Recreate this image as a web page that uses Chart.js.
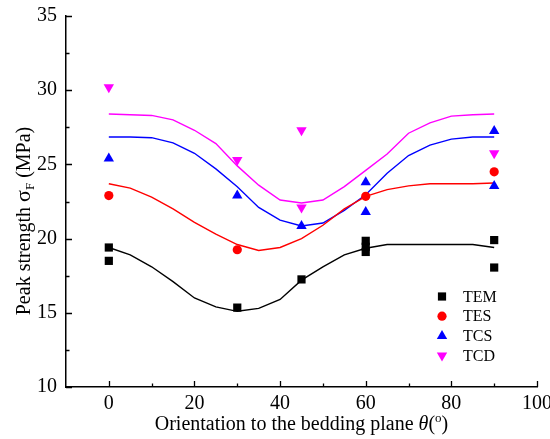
<!DOCTYPE html>
<html>
<head>
<meta charset="utf-8">
<script src="https://cdn.jsdelivr.net/npm/chart.js@4.4.1/dist/chart.umd.min.js"></script>
<style>
  html, body { margin: 0; padding: 0; background: #fff; }
  #wrap { width: 550px; height: 439px; }
</style>
</head>
<body>
<div id="wrap"><canvas id="strengthChart"></canvas></div>
<script>
// measured peak strength (MPa) vs bedding orientation (deg)
const temAngles = [0, 0, 30, 45, 60, 60, 60, 90, 90];
const temValues = [19.4, 18.5, 15.35, 17.25, 19.85, 19.45, 19.1, 19.9, 18.05];
const tesAngles = [0, 30, 60, 90];
const tesValues = [22.9, 19.25, 22.85, 24.5];
const tcsAngles = [0, 30, 45, 60, 60, 90, 90];
const tcsValues = [25.4, 22.9, 20.85, 23.8, 21.8, 27.25, 23.55];
const tcdAngles = [0, 30, 45, 45, 90];
const tcdValues = [30.2, 25.3, 27.3, 22.1, 25.75];

// fitted curves
const fitAngles = [0, 5, 10, 15, 20, 25, 30, 35, 40, 45, 50, 55, 60, 65, 70, 75, 80, 85, 90];
const temFit = [19.4, 18.9, 18.1, 17.1, 16.0, 15.4, 15.1, 15.3, 15.9, 17.2, 18.1, 18.9, 19.35, 19.6, 19.6, 19.6, 19.6, 19.6, 19.4];
const tesFit = [23.7, 23.4, 22.8, 22.0, 21.1, 20.3, 19.6, 19.2, 19.4, 20.0, 20.9, 22.0, 22.85, 23.3, 23.55, 23.7, 23.7, 23.7, 23.75];
const tcsFit = [26.85, 26.85, 26.8, 26.45, 25.75, 24.7, 23.5, 22.1, 21.25, 20.85, 21.05, 21.9, 22.95, 24.4, 25.6, 26.3, 26.7, 26.85, 26.85];
const tcdFit = [28.4, 28.35, 28.3, 28.0, 27.3, 26.4, 24.9, 23.6, 22.6, 22.4, 22.6, 23.5, 24.6, 25.7, 27.1, 27.8, 28.25, 28.35, 28.4];

const xTicks = [0, 20, 40, 60, 80, 100];
const xMinor = [10, 30, 50, 70, 90];
const yTicks = [10, 15, 20, 25, 30, 35];
const yMinor = [12.5, 17.5, 22.5, 27.5, 32.5];

const seriesNames = ['TEM', 'TES', 'TCS', 'TCD'];
const seriesColors = ['#000000', '#ff0000', '#0000ff', '#ff00ff'];

const serif = "'Liberation Serif', 'Times New Roman', serif";

const pts = (xs, ys) => xs.map((x, i) => ({ x: x, y: ys[i] }));

const markerStyles = [
  { pointStyle: 'rect', radius: 5.8, rotation: 0 },
  { pointStyle: 'circle', radius: 4.6, rotation: 0 },
  { pointStyle: 'triangle', radius: 6, rotation: 0 },
  { pointStyle: 'triangle', radius: 6, rotation: 180 }
];

const pointSets = [pts(temAngles, temValues), pts(tesAngles, tesValues), pts(tcsAngles, tcsValues), pts(tcdAngles, tcdValues)];
const fitSets = [temFit, tesFit, tcsFit, tcdFit].map(f => pts(fitAngles, f));

const datasets = [];
pointSets.forEach((d, i) => {
  datasets.push({
    label: seriesNames[i],
    data: d,
    showLine: false,
    pointStyle: markerStyles[i].pointStyle,
    pointRadius: markerStyles[i].radius,
    pointRotation: markerStyles[i].rotation,
    pointBackgroundColor: seriesColors[i],
    pointBorderWidth: 0,
    order: 0
  });
});
fitSets.forEach((d, i) => {
  datasets.push({
    label: seriesNames[i] + ' fit',
    data: d,
    showLine: true,
    borderColor: seriesColors[i],
    borderWidth: 1.4,
    pointRadius: 0,
    tension: 0,
    order: 1
  });
});

// inward tick marks, axis titles with sub/superscripts and the legend
const decorations = {
  id: 'decorations',
  afterDraw(chart) {
    const ctx = chart.ctx;
    const xs = chart.scales.x, ys = chart.scales.y;
    const left = chart.chartArea.left, bottom = chart.chartArea.bottom;
    ctx.save();
    ctx.strokeStyle = '#000';
    ctx.lineWidth = 1.3;
    ctx.beginPath();
    xTicks.forEach(v => { const p = Math.round(xs.getPixelForValue(v)) + 0.5; ctx.moveTo(p, bottom); ctx.lineTo(p, bottom - 6); });
    xMinor.forEach(v => { const p = Math.round(xs.getPixelForValue(v)) + 0.5; ctx.moveTo(p, bottom); ctx.lineTo(p, bottom - 3.5); });
    yTicks.forEach(v => { const p = Math.round(ys.getPixelForValue(v)) + 0.5; ctx.moveTo(left, p); ctx.lineTo(left + 6, p); });
    yMinor.forEach(v => { const p = Math.round(ys.getPixelForValue(v)) + 0.5; ctx.moveTo(left, p); ctx.lineTo(left + 3.5, p); });
    ctx.stroke();

    ctx.fillStyle = '#000';
    ctx.textBaseline = 'alphabetic';

    // x title
    const big = '20px ' + serif, ital = 'italic 20px ' + serif, small = '13px ' + serif;
    const xParts = [
      { t: 'Orientation to the bedding plane ', f: big, dy: 0 },
      { t: 'θ', f: ital, dy: 0 },
      { t: '(', f: big, dy: 0 },
      { t: 'o', f: small, dy: -8 },
      { t: ')', f: big, dy: 0 }
    ];
    let total = 0;
    xParts.forEach(p => { ctx.font = p.f; p.w = ctx.measureText(p.t).width; total += p.w; });
    let cx = (xs.left + xs.right) / 2 - total / 2;
    const xBase = 430;
    xParts.forEach(p => { ctx.font = p.f; ctx.fillText(p.t, cx, xBase + p.dy); cx += p.w; });

    // y title
    const yParts = [
      { t: 'Peak strength ', f: big, dy: 0 },
      { t: 'σ', f: '22px ' + serif, dy: 0 },
      { t: 'F', f: small, dy: 4 },
      { t: ' (MPa)', f: big, dy: 0 }
    ];
    total = 0;
    yParts.forEach(p => { ctx.font = p.f; p.w = ctx.measureText(p.t).width; total += p.w; });
    ctx.translate(30, 221);
    ctx.rotate(-Math.PI / 2);
    cx = -total / 2;
    yParts.forEach(p => { ctx.font = p.f; ctx.fillText(p.t, cx, p.dy); cx += p.w; });
    ctx.setTransform(1, 0, 0, 1, 0, 0);

    // legend
    const legX = 442, legTextX = 463, legY = 296.5, legStep = 19.7;
    seriesNames.forEach((name, i) => {
      const y = legY + i * legStep;
      ctx.fillStyle = seriesColors[i];
      Chart.helpers.drawPoint(ctx, {
        pointStyle: markerStyles[i].pointStyle,
        radius: markerStyles[i].radius,
        rotation: markerStyles[i].rotation,
        borderWidth: 0
      }, legX, y);
      ctx.fillStyle = '#000';
      ctx.font = '16px ' + serif;
      ctx.textBaseline = 'middle';
      ctx.fillText(name, legTextX, y + 1);
    });
    ctx.restore();
  }
};

new Chart(document.getElementById('strengthChart'), {
  type: 'scatter',
  data: { datasets: datasets },
  options: {
    responsive: true,
    maintainAspectRatio: false,
    animation: false,
    layout: { padding: { top: 16, left: 37, right: 13, bottom: 23 } },
    plugins: { legend: { display: false }, tooltip: { enabled: false } },
    scales: {
      x: {
        type: 'linear',
        min: -10,
        max: 100,
        afterBuildTicks: s => { s.ticks = xTicks.map(v => ({ value: v })); },
        afterFit: s => { s.height = 29; s.paddingLeft = 0; s.paddingRight = 0; },
        grid: { display: false, drawTicks: false },
        border: { display: true, color: '#000', width: 1.5 },
        ticks: { color: '#000', font: { family: serif, size: 20 }, padding: 5, maxRotation: 0 }
      },
      y: {
        type: 'linear',
        min: 10,
        max: 35,
        afterBuildTicks: s => { s.ticks = yTicks.map(v => ({ value: v })); },
        afterFit: s => { s.width = 29; s.paddingTop = 0; s.paddingBottom = 0; },
        grid: { display: false, drawTicks: false },
        border: { display: true, color: '#000', width: 1.5 },
        ticks: { color: '#000', font: { family: serif, size: 20 }, padding: 9 }
      }
    }
  },
  plugins: [decorations]
});
</script>
</body>
</html>
